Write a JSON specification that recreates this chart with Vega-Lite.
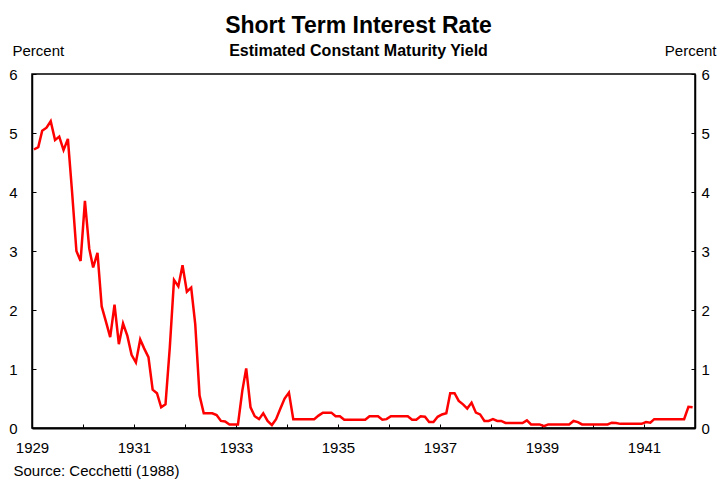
{
  "$schema": "https://vega.github.io/schema/vega-lite/v6.json",
  "width": 663,
  "height": 354,
  "autosize": "none",
  "padding": {"left": 32, "top": 74, "right": 22, "bottom": 55},
  "background": "white",
  "config": {
    "font": "Liberation Sans",
    "view": {"stroke": "black", "strokeWidth": 1.5}
  },
  "title": {
    "text": "Short Term Interest Rate",
    "subtitle": "Estimated Constant Maturity Yield",
    "anchor": "middle",
    "font": "Liberation Sans",
    "fontSize": 23,
    "fontWeight": "bold",
    "color": "black",
    "subtitleFont": "Liberation Sans",
    "subtitleFontSize": 16,
    "subtitleFontWeight": "bold",
    "subtitleColor": "black",
    "subtitlePadding": 5,
    "offset": -16,
    "dx": -5
  },
  "data": {
    "values": [
      {"d": "1929-01-15", "v": 4.72}, {"d": "1929-02-15", "v": 4.76}, {"d": "1929-03-15", "v": 5.04}, {"d": "1929-04-15", "v": 5.09},
      {"d": "1929-05-15", "v": 5.20}, {"d": "1929-06-15", "v": 4.88}, {"d": "1929-07-15", "v": 4.94}, {"d": "1929-08-15", "v": 4.71},
      {"d": "1929-09-15", "v": 4.90}, {"d": "1929-10-15", "v": 4.00}, {"d": "1929-11-15", "v": 3.00}, {"d": "1929-12-15", "v": 2.83},
      {"d": "1930-01-15", "v": 3.85}, {"d": "1930-02-15", "v": 3.04}, {"d": "1930-03-15", "v": 2.72}, {"d": "1930-04-15", "v": 2.97},
      {"d": "1930-05-15", "v": 2.06}, {"d": "1930-06-15", "v": 1.80}, {"d": "1930-07-15", "v": 1.54}, {"d": "1930-08-15", "v": 2.09},
      {"d": "1930-09-15", "v": 1.42}, {"d": "1930-10-15", "v": 1.77}, {"d": "1930-11-15", "v": 1.56}, {"d": "1930-12-15", "v": 1.24},
      {"d": "1931-01-15", "v": 1.11}, {"d": "1931-02-15", "v": 1.50}, {"d": "1931-03-15", "v": 1.35}, {"d": "1931-04-15", "v": 1.20},
      {"d": "1931-05-15", "v": 0.65}, {"d": "1931-06-15", "v": 0.59}, {"d": "1931-07-15", "v": 0.35}, {"d": "1931-08-15", "v": 0.40},
      {"d": "1931-09-15", "v": 1.37}, {"d": "1931-10-15", "v": 2.51}, {"d": "1931-11-15", "v": 2.40}, {"d": "1931-12-15", "v": 2.76},
      {"d": "1932-01-15", "v": 2.31}, {"d": "1932-02-15", "v": 2.38}, {"d": "1932-03-15", "v": 1.76}, {"d": "1932-04-15", "v": 0.55},
      {"d": "1932-05-15", "v": 0.25}, {"d": "1932-06-15", "v": 0.25}, {"d": "1932-07-15", "v": 0.25}, {"d": "1932-08-15", "v": 0.22},
      {"d": "1932-09-15", "v": 0.12}, {"d": "1932-10-15", "v": 0.11}, {"d": "1932-11-15", "v": 0.06}, {"d": "1932-12-15", "v": 0.06},
      {"d": "1933-01-15", "v": 0.06}, {"d": "1933-02-15", "v": 0.63}, {"d": "1933-03-15", "v": 1.01}, {"d": "1933-04-15", "v": 0.35},
      {"d": "1933-05-15", "v": 0.20}, {"d": "1933-06-15", "v": 0.15}, {"d": "1933-07-15", "v": 0.25}, {"d": "1933-08-15", "v": 0.12},
      {"d": "1933-09-15", "v": 0.05}, {"d": "1933-10-15", "v": 0.15}, {"d": "1933-11-15", "v": 0.33}, {"d": "1933-12-15", "v": 0.50},
      {"d": "1934-01-15", "v": 0.60}, {"d": "1934-02-15", "v": 0.15}, {"d": "1934-03-15", "v": 0.15}, {"d": "1934-04-15", "v": 0.15},
      {"d": "1934-05-15", "v": 0.15}, {"d": "1934-06-15", "v": 0.15}, {"d": "1934-07-15", "v": 0.15}, {"d": "1934-08-15", "v": 0.21},
      {"d": "1934-09-15", "v": 0.26}, {"d": "1934-10-15", "v": 0.26}, {"d": "1934-11-15", "v": 0.26}, {"d": "1934-12-15", "v": 0.20},
      {"d": "1935-01-15", "v": 0.20}, {"d": "1935-02-15", "v": 0.14}, {"d": "1935-03-15", "v": 0.14}, {"d": "1935-04-15", "v": 0.14},
      {"d": "1935-05-15", "v": 0.14}, {"d": "1935-06-15", "v": 0.14}, {"d": "1935-07-15", "v": 0.14}, {"d": "1935-08-15", "v": 0.20},
      {"d": "1935-09-15", "v": 0.20}, {"d": "1935-10-15", "v": 0.20}, {"d": "1935-11-15", "v": 0.14}, {"d": "1935-12-15", "v": 0.15},
      {"d": "1936-01-15", "v": 0.20}, {"d": "1936-02-15", "v": 0.20}, {"d": "1936-03-15", "v": 0.20}, {"d": "1936-04-15", "v": 0.20},
      {"d": "1936-05-15", "v": 0.20}, {"d": "1936-06-15", "v": 0.14}, {"d": "1936-07-15", "v": 0.14}, {"d": "1936-08-15", "v": 0.20},
      {"d": "1936-09-15", "v": 0.19}, {"d": "1936-10-15", "v": 0.10}, {"d": "1936-11-15", "v": 0.10}, {"d": "1936-12-15", "v": 0.19},
      {"d": "1937-01-15", "v": 0.23}, {"d": "1937-02-15", "v": 0.25}, {"d": "1937-03-15", "v": 0.59}, {"d": "1937-04-15", "v": 0.59},
      {"d": "1937-05-15", "v": 0.46}, {"d": "1937-06-15", "v": 0.40}, {"d": "1937-07-15", "v": 0.33}, {"d": "1937-08-15", "v": 0.43},
      {"d": "1937-09-15", "v": 0.26}, {"d": "1937-10-15", "v": 0.23}, {"d": "1937-11-15", "v": 0.12}, {"d": "1937-12-15", "v": 0.12},
      {"d": "1938-01-15", "v": 0.15}, {"d": "1938-02-15", "v": 0.12}, {"d": "1938-03-15", "v": 0.12}, {"d": "1938-04-15", "v": 0.085},
      {"d": "1938-05-15", "v": 0.085}, {"d": "1938-06-15", "v": 0.085}, {"d": "1938-07-15", "v": 0.085}, {"d": "1938-08-15", "v": 0.085},
      {"d": "1938-09-15", "v": 0.13}, {"d": "1938-10-15", "v": 0.06}, {"d": "1938-11-15", "v": 0.06}, {"d": "1938-12-15", "v": 0.06},
      {"d": "1939-01-15", "v": 0.03}, {"d": "1939-02-15", "v": 0.06}, {"d": "1939-03-15", "v": 0.06}, {"d": "1939-04-15", "v": 0.06},
      {"d": "1939-05-15", "v": 0.06}, {"d": "1939-06-15", "v": 0.06}, {"d": "1939-07-15", "v": 0.06}, {"d": "1939-08-15", "v": 0.12},
      {"d": "1939-09-15", "v": 0.10}, {"d": "1939-10-15", "v": 0.06}, {"d": "1939-11-15", "v": 0.06}, {"d": "1939-12-15", "v": 0.06},
      {"d": "1940-01-15", "v": 0.06}, {"d": "1940-02-15", "v": 0.06}, {"d": "1940-03-15", "v": 0.06}, {"d": "1940-04-15", "v": 0.06},
      {"d": "1940-05-15", "v": 0.09}, {"d": "1940-06-15", "v": 0.085}, {"d": "1940-07-15", "v": 0.07}, {"d": "1940-08-15", "v": 0.07},
      {"d": "1940-09-15", "v": 0.07}, {"d": "1940-10-15", "v": 0.07}, {"d": "1940-11-15", "v": 0.07}, {"d": "1940-12-15", "v": 0.07},
      {"d": "1941-01-15", "v": 0.10}, {"d": "1941-02-15", "v": 0.09}, {"d": "1941-03-15", "v": 0.15}, {"d": "1941-04-15", "v": 0.15},
      {"d": "1941-05-15", "v": 0.15}, {"d": "1941-06-15", "v": 0.15}, {"d": "1941-07-15", "v": 0.15}, {"d": "1941-08-15", "v": 0.15},
      {"d": "1941-09-15", "v": 0.15}, {"d": "1941-10-15", "v": 0.15}, {"d": "1941-11-15", "v": 0.36}, {"d": "1941-12-15", "v": 0.35}
    ]
  },
  "encoding": {
    "x": {
      "field": "d",
      "type": "temporal",
      "scale": {
        "type": "utc",
        "domain": [
          {"year": 1929, "month": 1, "date": 1, "utc": true},
          {"year": 1942, "month": 1, "date": 1, "utc": true}
        ]
      },
      "axis": {
        "values": [
          {"year": 1929, "month": 1, "date": 1, "utc": true},
          {"year": 1930, "month": 1, "date": 1, "utc": true},
          {"year": 1931, "month": 1, "date": 1, "utc": true},
          {"year": 1932, "month": 1, "date": 1, "utc": true},
          {"year": 1933, "month": 1, "date": 1, "utc": true},
          {"year": 1934, "month": 1, "date": 1, "utc": true},
          {"year": 1935, "month": 1, "date": 1, "utc": true},
          {"year": 1936, "month": 1, "date": 1, "utc": true},
          {"year": 1937, "month": 1, "date": 1, "utc": true},
          {"year": 1938, "month": 1, "date": 1, "utc": true},
          {"year": 1939, "month": 1, "date": 1, "utc": true},
          {"year": 1940, "month": 1, "date": 1, "utc": true},
          {"year": 1941, "month": 1, "date": 1, "utc": true}
        ],
        "labelExpr": "utcyear(datum.value) % 2 == 1 ? utcFormat(datum.value, '%Y') : ''",
        "grid": false,
        "tickSize": -4,
        "tickColor": "black",
        "tickWidth": 1,
        "domainColor": "black",
        "domainWidth": 2,
        "labelFont": "Liberation Sans",
        "labelFontSize": 15,
        "labelColor": "black",
        "labelPadding": 16,
        "labelFlush": false,
        "labelOverlap": false,
        "title": "Source: Cecchetti (1988)",
        "titleFont": "Liberation Sans",
        "titleFontSize": 15,
        "titleFontWeight": "normal",
        "titleColor": "black",
        "titleAnchor": "start",
        "titleAlign": "left",
        "titleBaseline": "alphabetic",
        "titleX": -19,
        "titleY": 47
      }
    }
  },
  "layer": [
    {
      "mark": {"type": "line", "color": "#ff0000", "strokeWidth": 2.5},
      "encoding": {
        "y": {
          "field": "v",
          "type": "quantitative",
          "scale": {"domain": [0, 6], "nice": false, "zero": true},
          "axis": {
            "orient": "left",
            "values": [0, 1, 2, 3, 4, 5, 6],
            "grid": false,
            "tickSize": -4,
            "tickColor": "black",
            "domainColor": "black",
            "domainWidth": 1.5,
            "labelFont": "Liberation Sans",
            "labelFontSize": 15,
            "labelColor": "black",
            "labelPadding": 19,
            "labelFlush": false,
            "title": "Percent",
            "titleFont": "Liberation Sans",
            "titleFontSize": 15,
            "titleFontWeight": "normal",
            "titleColor": "black",
            "titleAngle": 0,
            "titleAlign": "left",
            "titleBaseline": "alphabetic",
            "titleX": -20,
            "titleY": -19
          }
        }
      }
    },
    {
      "mark": {"type": "line", "strokeOpacity": 0},
      "encoding": {
        "y": {
          "field": "v",
          "type": "quantitative",
          "scale": {"domain": [0, 6], "nice": false, "zero": true},
          "axis": {
            "orient": "right",
            "values": [0, 1, 2, 3, 4, 5, 6],
            "grid": false,
            "tickSize": -4,
            "tickColor": "black",
            "domainColor": "black",
            "domainWidth": 1.5,
            "labelFont": "Liberation Sans",
            "labelFontSize": 15,
            "labelColor": "black",
            "labelPadding": 10,
            "labelFlush": false,
            "title": "Percent",
            "titleFont": "Liberation Sans",
            "titleFontSize": 15,
            "titleFontWeight": "normal",
            "titleColor": "black",
            "titleAngle": 0,
            "titleAlign": "right",
            "titleBaseline": "alphabetic",
            "titleX": 21,
            "titleY": -19
          }
        }
      }
    }
  ],
  "resolve": {"axis": {"y": "independent"}}
}
